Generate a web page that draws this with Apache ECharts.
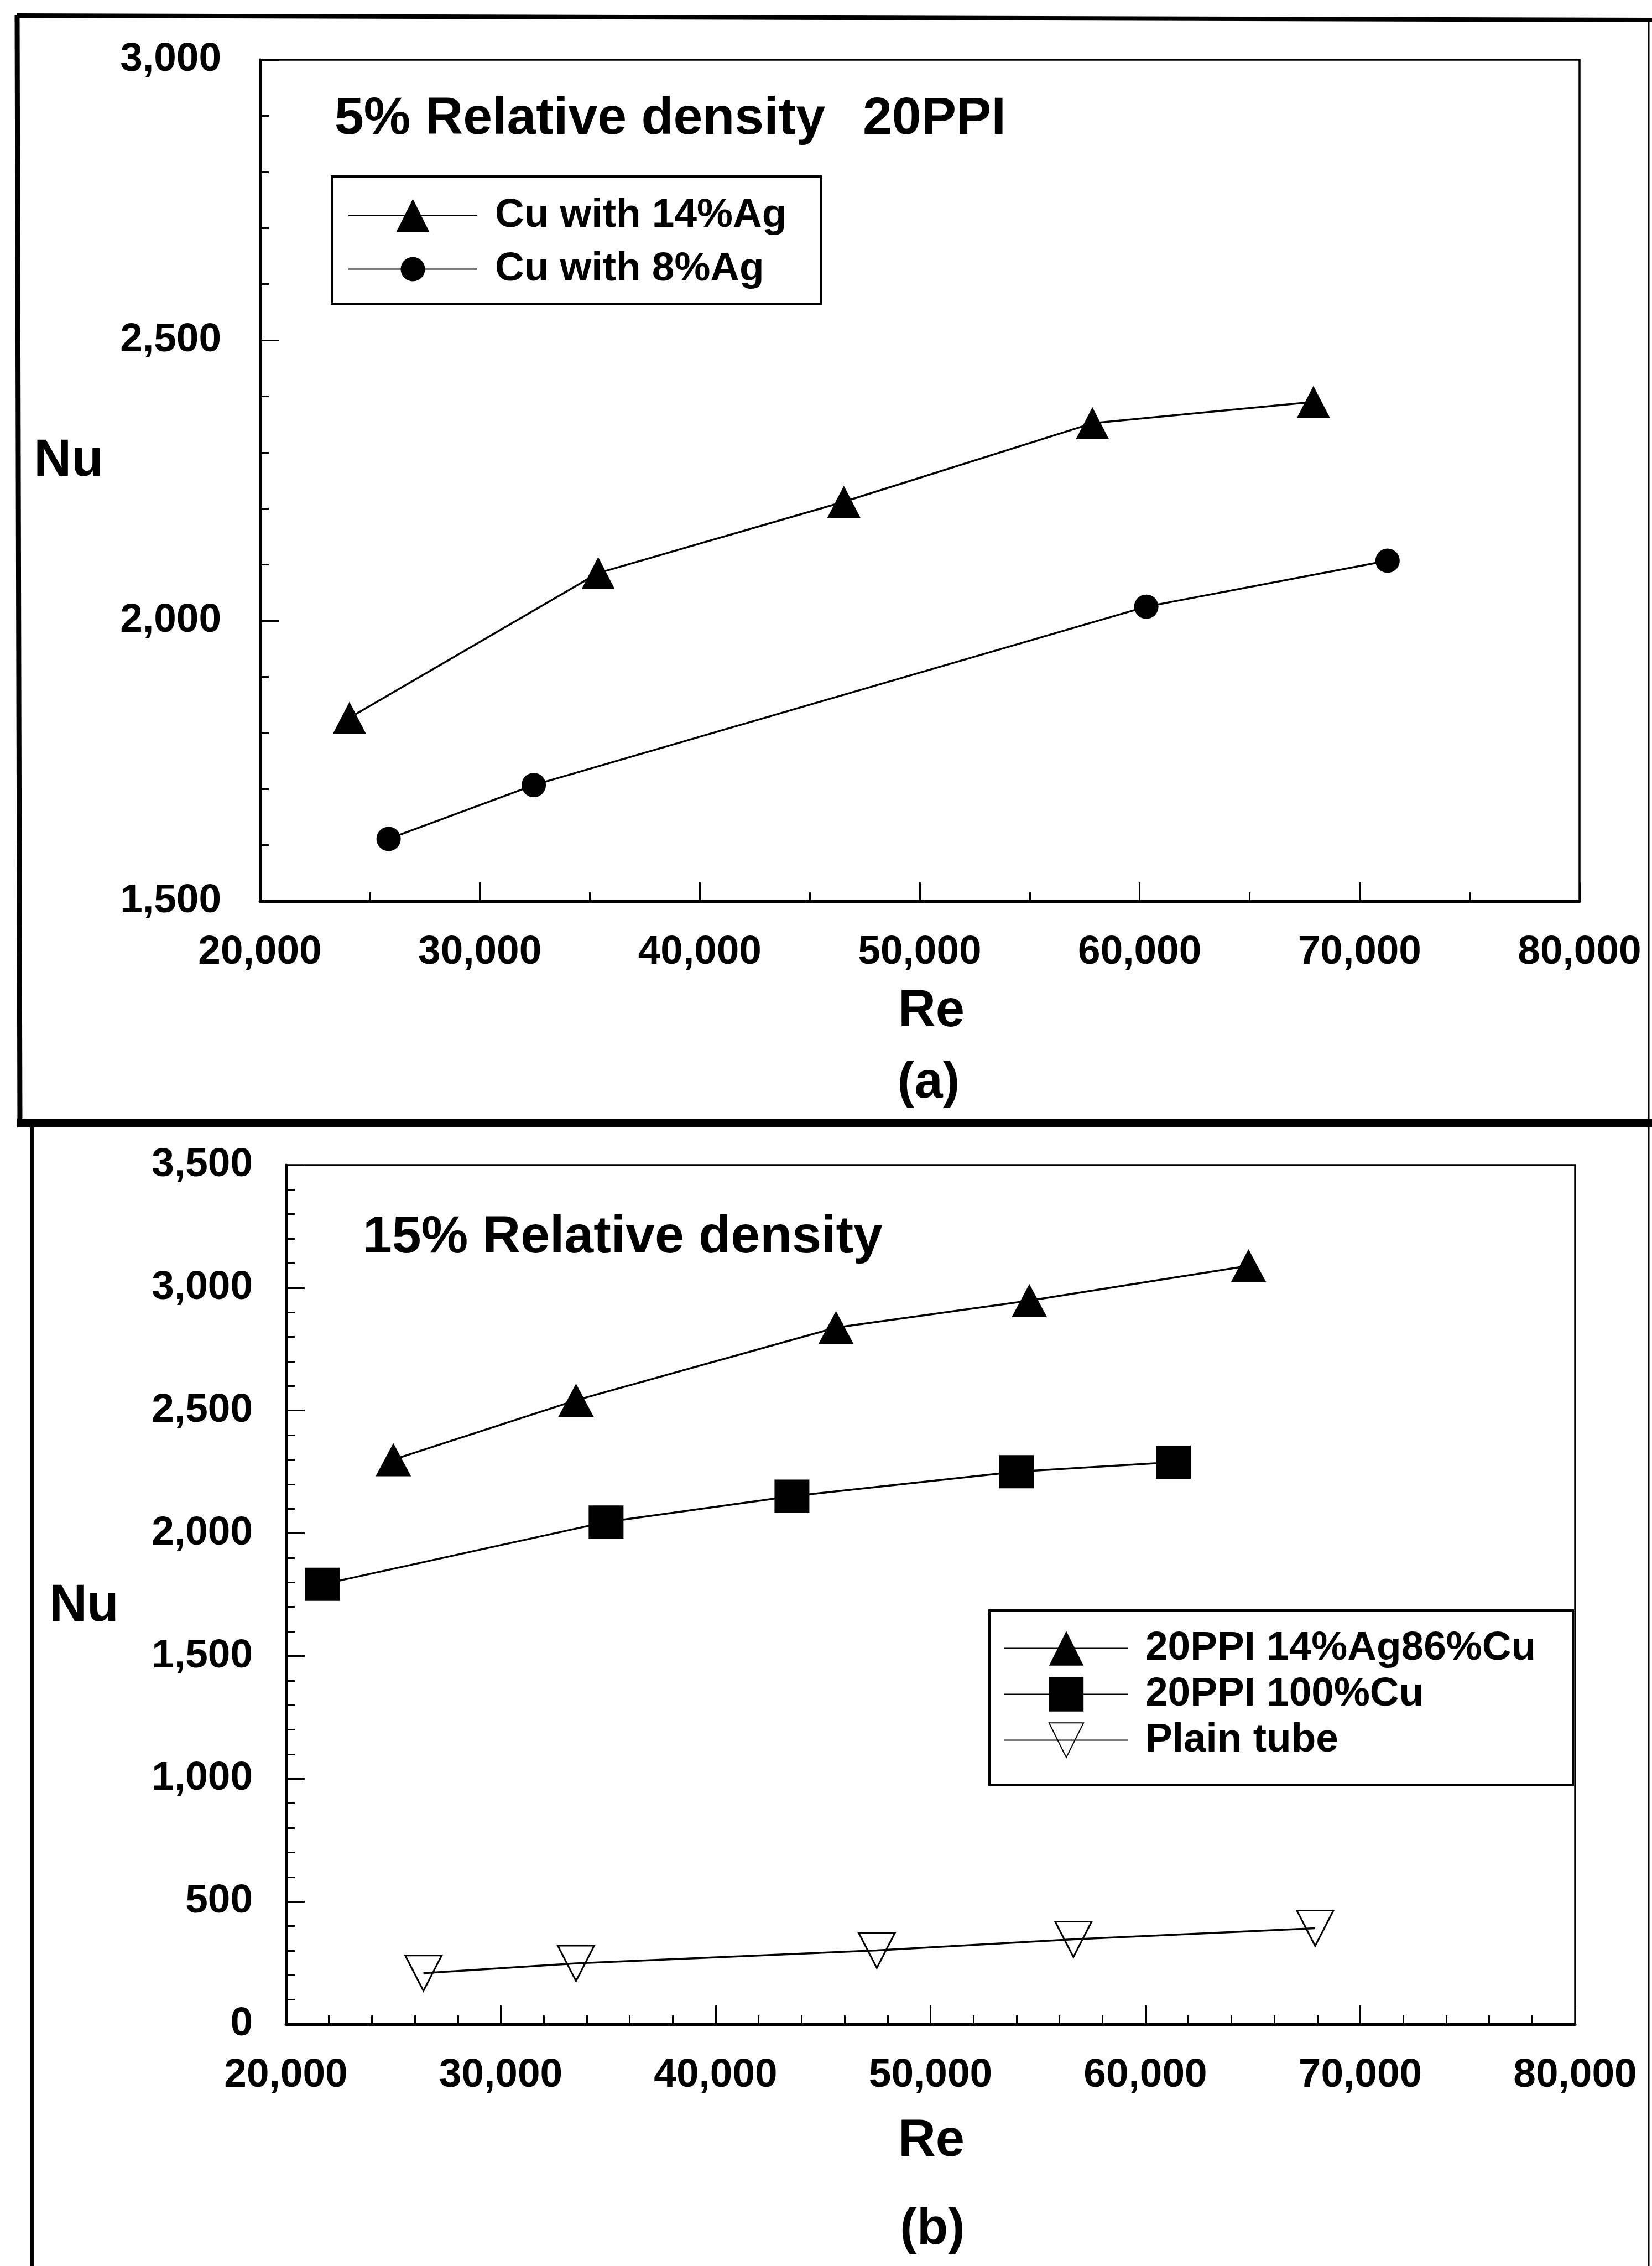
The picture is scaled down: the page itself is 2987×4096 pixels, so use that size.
<!DOCTYPE html>
<html>
<head>
<meta charset="UTF-8">
<title>Nu - Re</title>
<script src="https://cdn.jsdelivr.net/npm/echarts@6/dist/echarts.min.js"></script>
<style>html,body{margin:0;padding:0;background:#fff;}</style>
</head>
<body>
<div id="main" style="width:2987px;height:4096px;"></div>
<script type="text/javascript">
// (a) 5% relative density, 20PPI
var reAg14 = [24070, 35380, 46550, 57850, 67900];
var nuAg14 = [1827, 2085, 2212, 2352, 2390];
var reAg8 = [25850, 32450, 60300, 71270];
var nuAg8 = [1611, 1707, 2025, 2107];

// (b) 15% relative density
var reAgCu = [25000, 33500, 45600, 54600, 64800];
var nuAgCu = [2300, 2542, 2838, 2948, 3090];
var reCu = [21700, 34900, 43550, 54000, 61300];
var nuCu = [1792, 2046, 2151, 2251, 2290];
var rePlain = [26400, 33500, 47500, 56650, 67900];
var nuPlain = [208, 248, 301, 346, 391];

// axis ranges / tick steps
var reRange = [20000, 80000], reStep = 10000;
var nuRangeA = [1500, 3000], nuRangeB = [0, 3500], nuStep = 500;

var FONT = "'Liberation Sans', Arial, Helvetica, sans-serif";

function pairs(xs, ys) {
    var out = [];
    for (var i = 0; i < xs.length; i++) out.push([xs[i], ys[i]]);
    return out;
}
function fmt(v) { return Number(v).toLocaleString('en-US'); }

function xAxisFor(gi, margin, minorSplit) {
    return {
        type: 'value', gridIndex: gi, min: reRange[0], max: reRange[1], interval: reStep,
        axisLine: { show: true, onZero: false, lineStyle: { color: '#000', width: 5 } },
        axisTick: { show: true, inside: true, length: 34, lineStyle: { color: '#000', width: 3 } },
        minorTick: { show: true, splitNumber: minorSplit, length: 16, lineStyle: { color: '#000', width: 3 } },
        splitLine: { show: false },
        axisLabel: { margin: margin, color: '#000', fontSize: 73, fontWeight: 'bold', fontFamily: FONT,
            formatter: fmt, showMinLabel: true, showMaxLabel: true }
    };
}
function yAxisFor(gi, range, margin) {
    return {
        type: 'value', gridIndex: gi, min: range[0], max: range[1], interval: nuStep,
        axisLine: { show: true, onZero: false, lineStyle: { color: '#000', width: 5 } },
        axisTick: { show: true, inside: true, length: 34, lineStyle: { color: '#000', width: 3 } },
        minorTick: { show: true, splitNumber: 5, length: 16, lineStyle: { color: '#000', width: 3 } },
        splitLine: { show: false },
        axisLabel: { margin: margin, color: '#000', fontSize: 73, fontWeight: 'bold', fontFamily: FONT,
            formatter: fmt, showMinLabel: true, showMaxLabel: true }
    };
}
function lineSeries(name, gi, xs, ys, symbol, size, rotate, hollow) {
    return {
        name: name, type: 'line', xAxisIndex: gi, yAxisIndex: gi,
        data: pairs(xs, ys),
        symbol: symbol, symbolSize: size, symbolRotate: rotate || 0,
        showAllSymbol: true,
        lineStyle: { color: '#000', width: 3.5 },
        itemStyle: hollow ? { color: 'rgba(0,0,0,0)', borderColor: '#000', borderWidth: 3 }
                          : { color: '#000', borderWidth: 0 },
        emphasis: { disabled: true },
        z: 3
    };
}
function txt(str, x, y, size, align) {
    return { type: 'text', x: x, y: y, z: 10,
        style: { text: str, fontSize: size, fontWeight: 'bold', fontFamily: FONT, fill: '#000',
            align: align || 'center', verticalAlign: 'middle',
            textAlign: align || 'center', textVerticalAlign: 'middle' } };
}
function seg(x1, y1, x2, y2, w) {
    return { type: 'line', z: 10, shape: { x1: x1, y1: y1, x2: x2, y2: y2 }, style: { stroke: '#000', lineWidth: w } };
}
function box(x, y, w, h, lw) {
    return { type: 'rect', z: 10, shape: { x: x, y: y, width: w, height: h }, style: { fill: 'none', stroke: '#000', lineWidth: lw } };
}
var legendText = { color: '#000', fontSize: 73, fontWeight: 'bold', fontFamily: FONT, lineHeight: 60 };

var myChart = echarts.init(document.getElementById('main'));

var option = {
    animation: false,
    backgroundColor: '#fff',
    grid: [
        { left: 470, top: 108, width: 2386, height: 1521, show: true, borderColor: '#000', borderWidth: 3.5 },
        { left: 517, top: 2106, width: 2331, height: 1553, show: true, borderColor: '#000', borderWidth: 3.5 }
    ],
    xAxis: [xAxisFor(0, 56, 2), xAxisFor(1, 56, 5)],
    yAxis: [yAxisFor(0, nuRangeA, 70), yAxisFor(1, nuRangeB, 60)],
    legend: [
        { left: 629, top: 353, orient: 'vertical', padding: 0, selectedMode: false,
          data: ['Cu with 14%Ag'], itemWidth: 233, itemHeight: 75,
          textStyle: Object.assign({ padding: [0, 0, 0, 27] }, legendText) },
        { left: 629, top: 450, orient: 'vertical', padding: 0, selectedMode: false,
          data: ['Cu with 8%Ag'], itemWidth: 233, itemHeight: 55,
          textStyle: Object.assign({ padding: [0, 0, 0, 27] }, legendText) },
        { left: 1815, top: 2943, orient: 'vertical', padding: 0, selectedMode: false, itemGap: 10,
          data: ['20PPI 14%Ag86%Cu', '20PPI 100%Cu', 'Plain tube'], itemWidth: 224, itemHeight: 78,
          textStyle: Object.assign({ padding: [0, 0, 0, 26] }, legendText) }
    ],
    series: [
        lineSeries('Cu with 14%Ag', 0, reAg14, nuAg14, 'triangle', [60, 58]),
        lineSeries('Cu with 8%Ag', 0, reAg8, nuAg8, 'circle', 44),
        lineSeries('20PPI 14%Ag86%Cu', 1, reAgCu, nuAgCu, 'triangle', [64, 60]),
        lineSeries('20PPI 100%Cu', 1, reCu, nuCu, 'rect', [63, 60]),
        lineSeries('Plain tube', 1, rePlain, nuPlain, 'triangle', [66, 64], 180, true)
    ],
    graphic: [
        // outer frames
        seg(31, 28, 2987, 36, 8),
        seg(31, 28, 36, 2030, 9),
        seg(2981, 32, 2981, 2030, 3),
        { type: 'rect', z: 10, shape: { x: 31, y: 2022, width: 2956, height: 16 }, style: { fill: '#000' } },
        seg(58, 2030, 58, 4096, 7),
        seg(2981, 2030, 2981, 4096, 3),
        // legend boxes
        box(600, 319, 884, 230, 4),
        box(1789, 2911, 1055, 315, 4),
        // titles and axis names
        txt('5% Relative density', 605, 216, 95, 'left'),
        txt('20PPI', 1560, 216, 95, 'left'),
        txt('Nu', 124, 834, 94),
        txt('Re', 1684, 1829, 94),
        txt('(a)', 1679, 1959, 92),
        txt('15% Relative density', 656, 2238, 95, 'left'),
        txt('Nu', 152, 2904, 94),
        txt('Re', 1684, 3871, 94),
        txt('(b)', 1686, 4031, 92)
    ]
};

myChart.setOption(option);
</script>
</body>
</html>
